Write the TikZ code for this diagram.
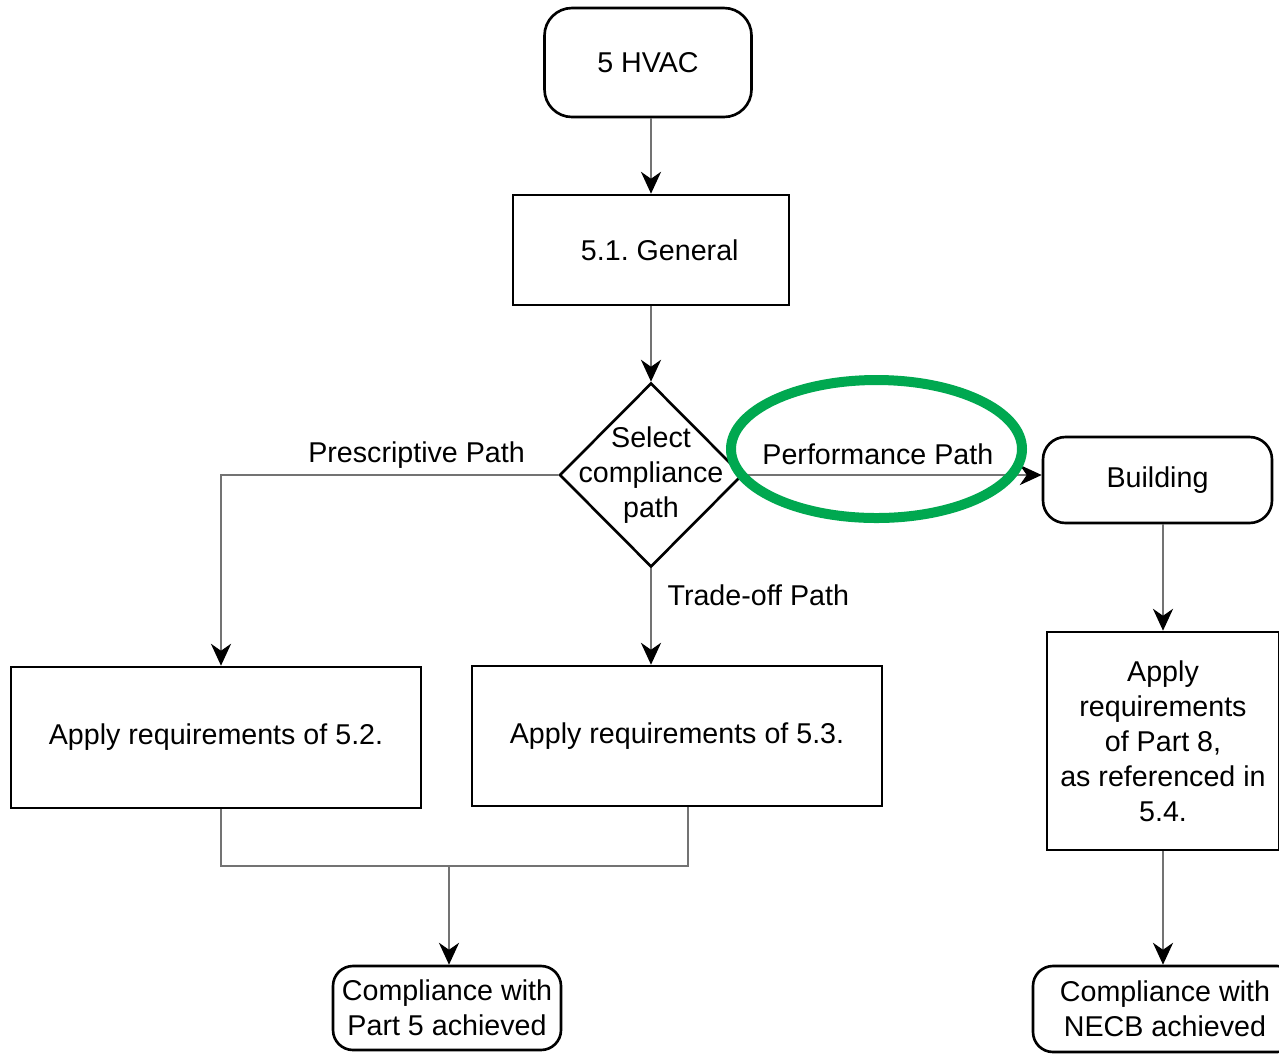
\documentclass[tikz,border=0pt]{standalone}
\usepackage{fontspec}
\setmainfont{Liberation Sans}
\usetikzlibrary{shapes.geometric,arrows.meta}
\definecolor{markgreen}{RGB}{0,168,80}
\frenchspacing
\begin{document}
\begin{tikzpicture}[
        font=\fontsize{16.3}{19.9}\selectfont,
        block/.style={draw,line width=1.5pt,align=center,inner sep=2pt},
        terminal/.style={block,rounded corners=0.45cm},
        decision/.style={draw,line width=1.5pt,diamond,inner sep=0pt,minimum width=3.66cm,minimum height=3.68cm},
        flow/.style={draw=black!55,line width=0.8pt},
        link/.style={flow,-{Stealth[length=12.5pt,width=11.5pt,inset=4pt,color=black,fill=black]}}]
        \useasboundingbox (0,0) rectangle (25.58,-21.06);

        \node[terminal,rounded corners=0.55cm,minimum width=4.14cm,minimum height=2.18cm] (hvac) at (12.96,-1.25) {5 HVAC};
        \node[block,minimum width=5.52cm,minimum height=2.2cm] (general) at (13.02,-5.0) {\hspace{0.35cm}5.1. General};
        \node[decision] (select) at (13.02,-9.5) {};
        \node[align=center] (selecttext) at (select) {Select\\compliance\\path};
        \node[terminal,minimum width=4.58cm,minimum height=1.72cm] (building) at (23.15,-9.6) {Building};
        \node[block,minimum width=8.2cm,minimum height=2.82cm] (p52) at (4.32,-14.75) {Apply requirements of 5.2.};
        \node[block,minimum width=8.2cm,minimum height=2.8cm] (p53) at (13.54,-14.72) {Apply requirements of 5.3.};
        \node[block,minimum width=4.64cm,minimum height=4.36cm] (p8) at (23.26,-14.82) {Apply\\requirements\\of Part 8,\\as referenced in\\5.4.};
        \node[terminal,rounded corners=0.4cm,minimum width=4.56cm,minimum height=1.68cm] (done5) at (8.94,-20.16) {Compliance with\\Part 5 achieved};
        \node[terminal,rounded corners=0.4cm,minimum width=5.28cm,minimum height=1.72cm] (doneN) at (23.3,-20.18) {Compliance with\\NECB achieved};

        \coordinate (join52) at (4.42,-17.32);
        \coordinate (join53) at (13.76,-17.32);
        \coordinate (join) at (8.98,-17.32);

        \draw[link] (general.north |- hvac.south) -- (general.north);
        \draw[link] (general) -- (select);
        \draw[link] (select.west) -| ([xshift=0.1cm]p52.north) node[above,pos=0.21] {Prescriptive Path};
        \draw[link] (select.east) -- (select.east -| building.west) node[above,pos=0.45,yshift=0.08cm] {Performance Path};
        \draw[link] (select.south) -- (select.south |- p53.north) node[right,pos=0.28,xshift=0.2cm] {Trade-off Path};
        \draw[flow] (join52 |- p52.south) -- (join52) -- (join53) -- (join53 |- p53.south);
        \draw[link] (join) -- (join |- done5.north);
        \draw[link] (p8.north |- building.south) -- (p8.north);
        \draw[link] (p8.south) -- (p8.south |- doneN.north);

        \draw[markgreen,line width=0.2cm] (17.53,-8.98) ellipse [x radius=2.91cm,y radius=1.38cm];
    \end{tikzpicture}
\end{document}
